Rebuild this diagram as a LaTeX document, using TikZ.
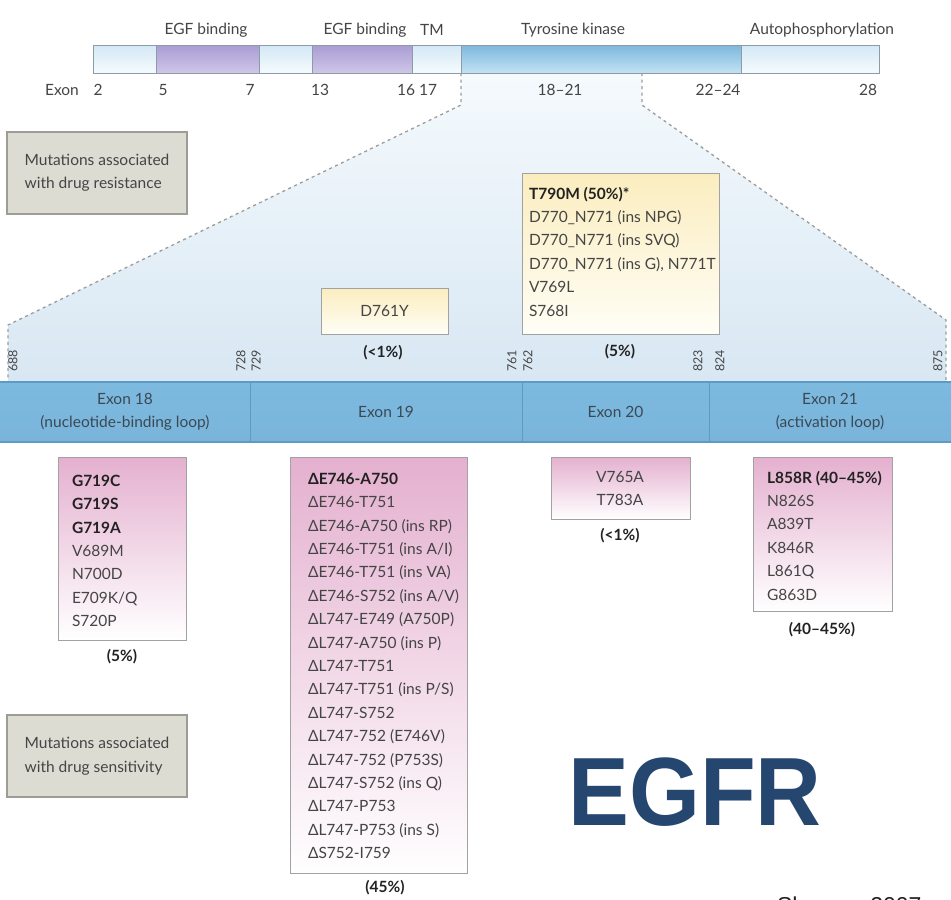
\documentclass[tikz,border=0pt]{standalone}
\usepackage{fontspec}
\setmainfont{Lato}
\newfontfamily\headfont{Liberation Sans}
\usetikzlibrary{calc}

\definecolor{barlighttop}{HTML}{D3E8F5}
\definecolor{barlightbot}{HTML}{F6FBFE}
\definecolor{purptop}{HTML}{A99DD3}
\definecolor{purpbot}{HTML}{CFC6E9}
\definecolor{kintop}{HTML}{7DB8DE}
\definecolor{kinbot}{HTML}{C3E2F2}
\definecolor{baredge}{HTML}{8D9BA6}
\definecolor{exontop}{HTML}{7DBAE0}
\definecolor{exonmid}{HTML}{BDE0F2}
\definecolor{exonbot}{HTML}{7AB4DA}
\definecolor{exonline}{HTML}{5B9BC6}
\definecolor{regiontop}{HTML}{F5FAFD}
\definecolor{regionbot}{HTML}{D8E7F3}
\definecolor{dashgray}{HTML}{9C9C9C}
\definecolor{pinktop}{HTML}{E4B0CF}
\definecolor{yeltop}{HTML}{FBEDBF}
\definecolor{yelbot}{HTML}{FFFEF6}
\definecolor{boxedge}{HTML}{A2A2A2}
\definecolor{keyfill}{HTML}{DCDCD3}
\definecolor{keyedge}{HTML}{9D9D95}
\definecolor{txt}{HTML}{454545}
\definecolor{txtdark}{HTML}{222222}
\definecolor{exontxt}{HTML}{3B4954}
\definecolor{egfrblue}{HTML}{24466F}

\newcommand{\bodysize}{\fontsize{15.5}{23.4}\selectfont}

\begin{document}
\begin{tikzpicture}[x=1pt,y=-1pt,
  every node/.style={inner sep=0pt, outer sep=0pt},
  lightseg/.style={anchor=north west, minimum height=28pt, top color=barlighttop, bottom color=barlightbot},
  purpseg/.style={anchor=north west, minimum height=28pt, top color=purptop, bottom color=purpbot},
  kinseg/.style={anchor=north west, minimum height=28pt, top color=kintop, bottom color=kinbot},
  barlabel/.style={font=\bodysize, text=txt},
  exonseg/.style={anchor=north west, minimum height=60pt, top color=exontop, middle color=exonmid, bottom color=exonbot,
                  font=\bodysize, text=exontxt, align=center},
  resnum/.style={rotate=90, font=\fontsize{12.5}{12.5}\selectfont, text=txt},
  dashline/.style={draw=dashgray, line width=1.3pt, dash pattern=on 3pt off 3.5pt},
  keybox/.style={anchor=north west, draw=keyedge, line width=1.4pt, fill=keyfill, minimum width=180pt, minimum height=82pt,
                 font=\bodysize, text=txt, align=left},
  pinkbox/.style={anchor=north west, draw=boxedge, line width=0.9pt, top color=pinktop, bottom color=white},
  yelbox/.style={anchor=north west, draw=boxedge, line width=0.9pt, top color=yeltop, bottom color=yelbot},
  mutlist/.style={font=\bodysize, text=txt, align=left},
  pct/.style={font=\bodysize\bfseries, text=txtdark},
]
% canvas
\clip (0,0) rectangle (951,900);
\fill[white] (0,0) rectangle (951,900);

% expanded kinase region between the two dashed guides
\coordinate (lt) at (461,73);
\coordinate (lk) at (461,105);
\coordinate (lb) at (8,325);
\coordinate (lbb) at (8,382);
\coordinate (rt) at (642,73);
\coordinate (rk) at (642,105);
\coordinate (rb) at (946,320);
\coordinate (rbb) at (946,382);
\shade[top color=regiontop, bottom color=regionbot]
  (lt) -- (lk) -- (lb) -- (lbb) -- (rbb) -- (rb) -- (rk) -- (rt) -- cycle;

% receptor domain bar
\node[lightseg, minimum width=63pt]  (s1) at (93,45) {};
\node[purpseg,  minimum width=103pt] (s2) at (156,45) {};
\node[lightseg, minimum width=53pt]  (s3) at (259,45) {};
\node[purpseg,  minimum width=100pt] (s4) at (312,45) {};
\node[lightseg, minimum width=49pt]  (s5) at (412,45) {};
\node[kinseg,   minimum width=280pt] (s6) at (461,45) {};
\node[lightseg, minimum width=138pt] (s7) at (741,45) {};
\draw[baredge, line width=0.8pt] (s1.north west) rectangle (s7.south east);
\foreach \s in {s2,s3,s4,s5,s6,s7} \draw[baredge, line width=0.8pt] (\s.north west) -- (\s.south west);

% domain names
\node[barlabel] (egf1) at (206,30) {EGF binding};
\node[barlabel] (egf2) at (365,30) {EGF binding};
\node[barlabel] (tm)   at (432,30) {TM};
\node[barlabel] (tk)   at (573,30) {Tyrosine kinase};
\node[barlabel] (auto) at (822,30) {Autophosphorylation};

% exon numbering under the bar
\node[barlabel] (exlab) at (62,90) {Exon};
\node[barlabel] (e2)  at (98,90)  {2};
\node[barlabel] (e5)  at (163,90) {5};
\node[barlabel] (e7)  at (250,90) {7};
\node[barlabel] (e13) at (320,90) {13};
\node[barlabel] (e16) at (406,90) {16};
\node[barlabel] (e17) at (428,90) {17};
\node[barlabel] (e18) at (560,90) {18–21};
\node[barlabel] (e22) at (718,90) {22–24};
\node[barlabel] (e28) at (868,90) {28};

% dashed guides from the kinase domain to the exon detail
\draw[dashline] (lt) -- (lk) -- (lb) -- (lbb);
\draw[dashline] (rt) -- (rk) -- (rb) -- (rbb);

% exon detail bar
\node[exonseg, minimum width=250pt] (x18) at (0,382)   {Exon 18\\(nucleotide-binding loop)};
\node[exonseg, minimum width=272pt] (x19) at (250,382) {Exon 19};
\node[exonseg, minimum width=187pt] (x20) at (522,382) {Exon 20};
\node[exonseg, minimum width=242pt] (x21) at (709,382) {Exon 21\\(activation loop)};
\draw[exonline, line width=1.2pt] (x18.north west) -- (x21.north east);
\draw[exonline, line width=1.2pt] (x18.south west) -- (x21.south east);
\foreach \s in {x19,x20,x21} \draw[exonline, line width=1pt] (\s.north west) -- (\s.south west);

% residue numbers
\node[resnum] (r688) at (13,361)  {688};
\node[resnum] (r728) at (241,361) {728};
\node[resnum] (r729) at (256,361) {729};
\node[resnum] (r761) at (512,361) {761};
\node[resnum] (r762) at (528,361) {762};
\node[resnum] (r823) at (698,361) {823};
\node[resnum] (r824) at (720,361) {824};
\node[resnum] (r875) at (938,361) {875};

% legend boxes
\node[keybox] (kres) at (7,132) {Mutations associated\\with drug resistance};
\node[keybox] (ksen) at (7,715) {Mutations associated\\with drug sensitivity};

% resistance mutations
\node[yelbox, minimum width=127pt, minimum height=46pt] (d761box) at (321,288) {};
\node[mutlist] (d761) at (d761box.center) {D761Y};
\node[pct] (d761pct) at (383,353) {(<1\%)};

\node[yelbox, minimum width=197pt, minimum height=161pt] (t790box) at (522,173) {};
\node[mutlist, anchor=north west] (t790) at (529,187)
  {\textcolor{txtdark}{\bfseries T790M (50\%)*}\\
   D770\_N771 (ins NPG)\\
   D770\_N771 (ins SVQ)\\
   D770\_N771 (ins G), N771T\\
   V769L\\
   S768I};
\node[pct] (t790pct) at (620,352) {(5\%)};

% sensitivity mutations: exon 18
\node[pinkbox, minimum width=128pt, minimum height=183pt] (g719box) at (58,457) {};
\node[mutlist, anchor=north west] (g719) at (72,475)
  {\textcolor{txtdark}{\bfseries G719C}\\
   \textcolor{txtdark}{\bfseries G719S}\\
   \textcolor{txtdark}{\bfseries G719A}\\
   V689M\\
   N700D\\
   E709K/Q\\
   S720P};
\node[pct] (g719pct) at (122,657) {(5\%)};

% exon 19 deletions
\node[pinkbox, minimum width=177pt, minimum height=416pt] (delbox) at (290,457) {};
\node[mutlist, anchor=north west] (dels) at (308,473)
  {\textcolor{txtdark}{\bfseries ΔE746-A750}\\
   ΔE746-T751\\
   ΔE746-A750 (ins RP)\\
   ΔE746-T751 (ins A/I)\\
   ΔE746-T751 (ins VA)\\
   ΔE746-S752 (ins A/V)\\
   ΔL747-E749 (A750P)\\
   ΔL747-A750 (ins P)\\
   ΔL747-T751\\
   ΔL747-T751 (ins P/S)\\
   ΔL747-S752\\
   ΔL747-752 (E746V)\\
   ΔL747-752 (P753S)\\
   ΔL747-S752 (ins Q)\\
   ΔL747-P753\\
   ΔL747-P753 (ins S)\\
   ΔS752-I759};
\node[pct] (delpct) at (385,888) {(45\%)};

% exon 20
\node[pinkbox, minimum width=139pt, minimum height=62pt] (x20box) at (551,457) {};
\node[mutlist, align=center, anchor=north] (x20m) at (620,471) {V765A\\T783A};
\node[pct] (x20pct) at (620,536) {(<1\%)};

% exon 21
\node[pinkbox, minimum width=139pt, minimum height=154pt] (x21box) at (753,457) {};
\node[mutlist, anchor=north west] (x21m) at (767,471)
  {\textcolor{txtdark}{\bfseries L858R (40–45\%)}\\
   N826S\\
   A839T\\
   K846R\\
   L861Q\\
   G863D};
\node[pct] (x21pct) at (822,630) {(40–45\%)};

% title and source line (source runs off the lower edge)
\node[font=\headfont\bfseries\fontsize{97}{97}\selectfont, text=egfrblue, xscale=0.94] (title) at (695,792) {EGFR};
\node[font=\headfont\fontsize{23}{23}\selectfont, text=txtdark, anchor=base west] (src) at (777,913) {Sharma, 2007};
\end{tikzpicture}
\end{document}
